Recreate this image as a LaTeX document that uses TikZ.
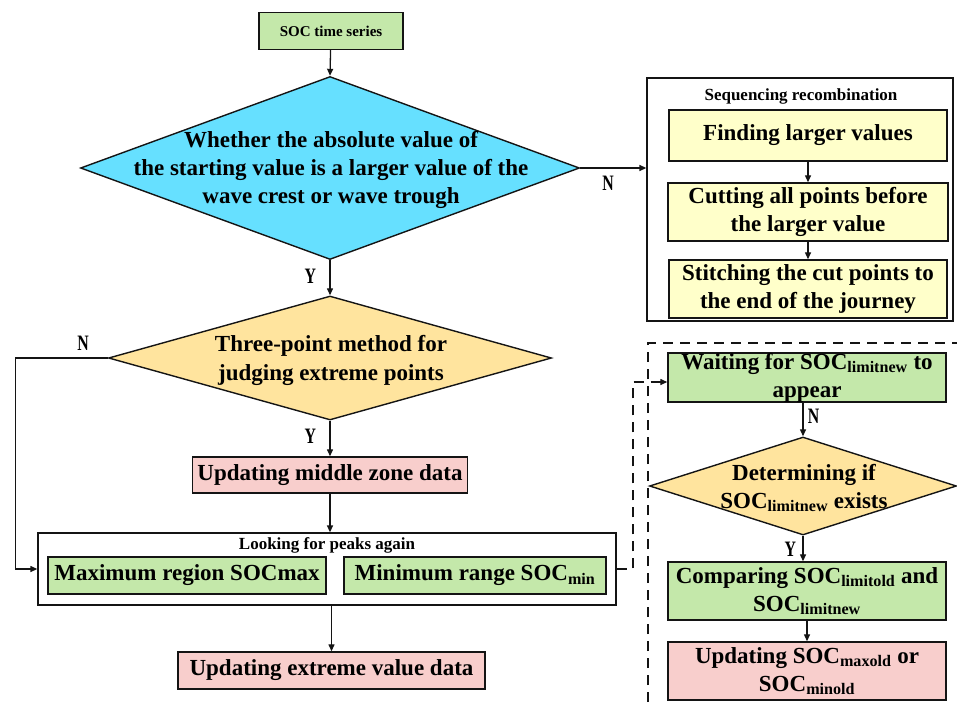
\documentclass[tikz,border=0pt]{standalone}
\usepackage{fontspec}
\setmainfont{Liberation Serif}
\newfontfamily\ynfont[FakeStretch=0.72]{Liberation Serif}
\usetikzlibrary{arrows.meta,positioning,shapes.geometric}
\definecolor{scgreen}{RGB}{196,232,170}
\definecolor{sccyan}{RGB}{102,224,255}
\definecolor{scorange}{RGB}{255,228,158}
\definecolor{scyellow}{RGB}{255,255,202}
\definecolor{scpink}{RGB}{248,206,204}
\definecolor{scline}{RGB}{20,20,20}
\tikzset{
  scBox/.style={draw=scline, line width=1.4pt, fill=#1, align=center,
                inner sep=0pt, font=\fontsize{23}{28}\selectfont\bfseries},
  scSmall/.style={draw=scline, line width=1.4pt, fill=#1, align=center,
                  inner sep=0pt, font=\fontsize{15}{17}\selectfont\bfseries},
  scFrame/.style={draw=scline, line width=1.3pt, fill=white, inner sep=0pt},
  scTitle/.style={font=\fontsize{17}{19}\selectfont\bfseries},
  scDiamond/.style={diamond, draw=scline, line width=1.4pt, fill=#1,
                    inner sep=0pt},
  scText/.style={align=center, font=\fontsize{23}{28}\selectfont\bfseries},
  scYN/.style={font=\fontsize{22}{22}\selectfont\ynfont\bfseries},
  scArrow/.style={-{Triangle[length=7pt,width=6pt]}, line width=1.3pt, draw=scline},
  scDash/.style={line width=1.3pt, draw=scline, dash pattern=on 10pt off 7pt}
}

\begin{document}
\begin{tikzpicture}[x=1pt,y=-1pt]
  \useasboundingbox (0,0) rectangle (957,702);

  % main column
  \node[scSmall=scgreen, minimum width=144pt, minimum height=37pt] (start) at (331,31) {SOC time series};
  \node[scDiamond=sccyan, minimum width=499pt, minimum height=183pt] (judgeA) at (330,168) {};
  \node[scText] (judgeAtxt) at (331,170) {Whether the absolute value of\\the starting value is a larger value of the\\wave crest or wave trough};
  \node[scDiamond=scorange, minimum width=443pt, minimum height=124pt] (judgeB) at (330,358) {};
  \node[scText, font=\fontsize{23}{29}\selectfont\bfseries] (judgeBtxt) at (331,360) {Three-point method for\\judging extreme points};
  \node[scBox=scpink, minimum width=275pt, minimum height=36pt] (middle) at (330,475) {Updating middle zone data};

  \node[scFrame, minimum width=578pt, minimum height=72pt] (peaks) at (327,569) {};
  \node[scTitle] (peaksttl) at (327,545) {Looking for peaks again};
  \node[scBox=scgreen, minimum width=278pt, minimum height=37pt] (maxreg) at (187,575.5) {Maximum region SOCmax};
  \node[scBox=scgreen, minimum width=262pt, minimum height=37pt] (minreg) at (475,575.5) {Minimum range SOC\textsubscript{min}};
  \node[scBox=scpink, minimum width=307pt, minimum height=37pt] (extreme) at (331.5,670.5) {Updating extreme value data};

  % sequencing recombination
  \node[scFrame, minimum width=306pt, minimum height=243pt] (seq) at (800,199.5) {};
  \node[scTitle] (seqttl) at (801,96) {Sequencing recombination};
  \node[scBox=scyellow, minimum width=278pt, minimum height=51pt] (find) at (808,135.5) {Finding larger values};
  \node[scBox=scyellow, minimum width=280pt, minimum height=58pt] (cut) at (808,212) {Cutting all points before\\the larger value};
  \node[scBox=scyellow, minimum width=278pt, minimum height=58pt] (stitch) at (808,289) {Stitching the cut points to\\the end of the journey};

  % limit branch
  \draw[scDash] (648,702) -- (648,343) -- (957,343);
  \node[scBox=scgreen, minimum width=278pt, minimum height=49pt] (wait) at (807,377.5) {Waiting for SOC\textsubscript{limitnew} to\\appear};
  \node[scDiamond=scorange, minimum width=307pt, minimum height=98pt] (judgeC) at (803,486) {};
  \node[scText] (judgeCtxt) at (804,488) {Determining if\\SOC\textsubscript{limitnew} exists};
  \node[scBox=scgreen, minimum width=278pt, minimum height=58pt] (compare) at (807,591) {Comparing SOC\textsubscript{limitold} and\\SOC\textsubscript{limitnew}};
  \node[scBox=scpink, minimum width=278pt, minimum height=58pt] (update) at (807,671) {Updating SOC\textsubscript{maxold} or\\SOC\textsubscript{minold}};

  % connectors
  \draw[scArrow] (start) -- (judgeA.north);
  \draw[scArrow] (judgeA.south) -- node[scYN, left=10pt, pos=0.45] (yA) {Y} (judgeB.north);
  \draw[scArrow] (judgeA.east) -- node[scYN, below=4pt, pos=0.42] (nA) {N} (seq.west |- judgeA.east);
  \draw[scArrow] (find) -- (cut);
  \draw[scArrow] (cut) -- (stitch);
  \draw[scArrow] (judgeB.west) -- ++(-92,0) coordinate (bend) |- (peaks.west);
  \node[scYN] (nB) at (83,343) {N};
  \draw[scArrow] (judgeB.south) -- node[scYN, left=10pt, pos=0.45] (yB) {Y} (middle.north);
  \draw[scArrow] (middle) -- (peaks.north -| middle);
  \draw[scArrow] (peaks.south -| extreme) -- (extreme);
  \draw[scDash, -{Triangle[length=7pt,width=6pt]}] (peaks.east) -- (633,569) |- ([yshift=-4.5pt]wait.west);
  \draw[scArrow] (wait.south -| judgeC) -- node[scYN, right=1pt, pos=0.4] (nC) {N} (judgeC.north);
  \draw[scArrow] (judgeC.south) -- node[scYN, left=3pt, pos=0.55] (yC) {Y} (compare.north -| judgeC);
  \draw[scArrow] (compare) -- (update);
\end{tikzpicture}
\end{document}
